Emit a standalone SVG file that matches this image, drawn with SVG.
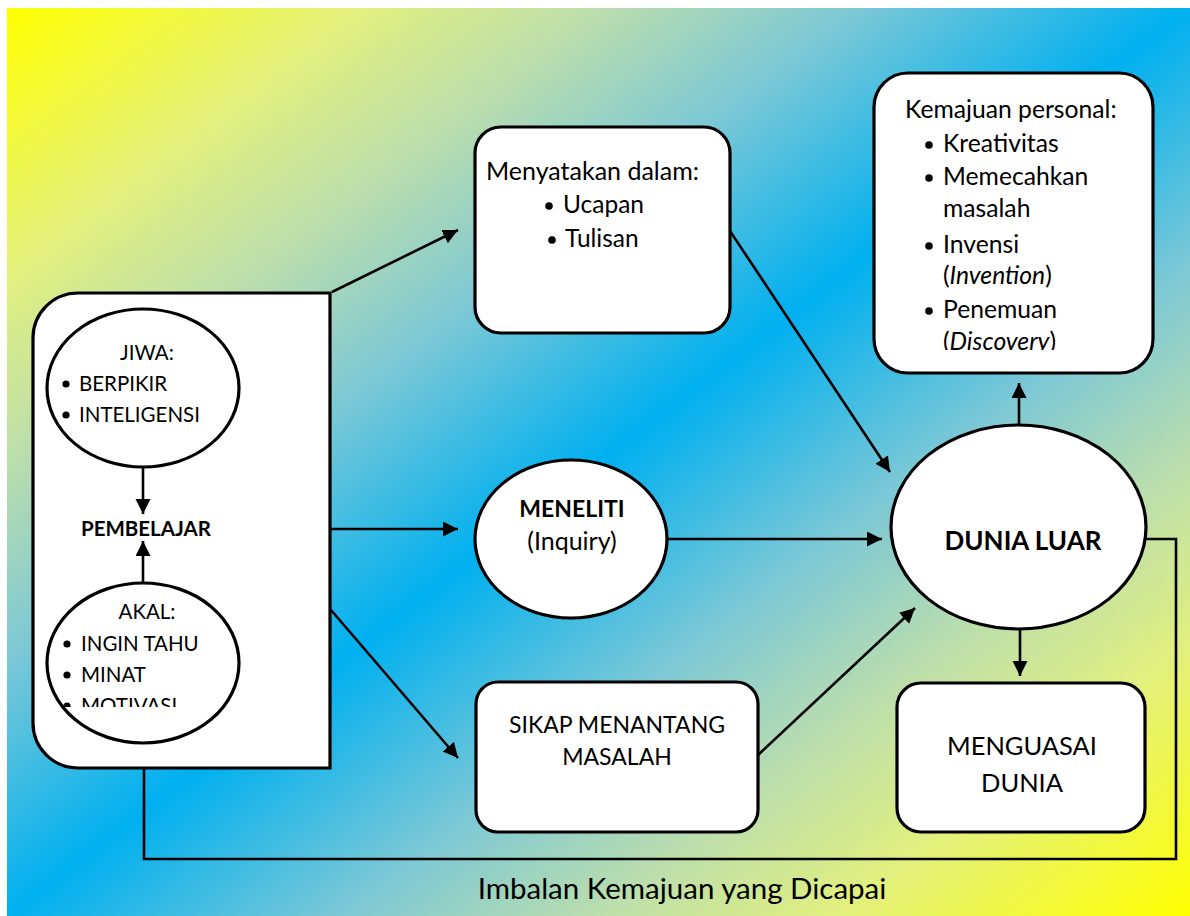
<svg xmlns="http://www.w3.org/2000/svg" width="1190" height="916" viewBox="0 0 1190 916">
<defs>
<linearGradient id="bg" x1="0" y1="0" x2="1" y2="1">
<stop offset="0" stop-color="#FFFF00"/>
<stop offset="0.15" stop-color="#E2F07E"/>
<stop offset="0.25" stop-color="#BCDEAC"/>
<stop offset="0.36" stop-color="#7CC8D6"/>
<stop offset="0.5" stop-color="#00B0F0"/>
<stop offset="0.64" stop-color="#7CC8D6"/>
<stop offset="0.75" stop-color="#BCDEAC"/>
<stop offset="0.85" stop-color="#E2F07E"/>
<stop offset="1" stop-color="#FFFF00"/>
</linearGradient>
<marker id="ah" markerUnits="userSpaceOnUse" markerWidth="16" markerHeight="16" refX="15" refY="7.5" orient="auto">
<path d="M0,0 L15,7.5 L0,15 Z" fill="#000"/>
</marker>
<clipPath id="clipAkal"><rect x="40" y="580" width="210" height="127"/></clipPath>
<clipPath id="clipKem"><rect x="880" y="80" width="270" height="270"/></clipPath>
</defs>
<style>
.box{fill:#fff;stroke:#000;stroke-width:3.2}
.t{font-family:Lato,"Open Sans","Liberation Sans",sans-serif;fill:#000}
.b{font-weight:bold}
.c{stroke:#000;stroke-width:2.6;fill:none}
.a{marker-end:url(#ah)}
</style>
<rect x="7" y="8" width="1183" height="908" fill="url(#bg)"/>

<g id="connectors">
<line class="c a" x1="332" y1="292" x2="458" y2="230"/>
<line class="c a" x1="330" y1="529" x2="458" y2="529"/>
<line class="c a" x1="331" y1="610" x2="458" y2="758"/>
<line class="c a" x1="730" y1="231" x2="890" y2="472"/>
<line class="c a" x1="667" y1="539" x2="882" y2="539"/>
<line class="c a" x1="758" y1="755" x2="915" y2="608"/>
<line class="c a" x1="1019" y1="425" x2="1019" y2="383"/>
<line class="c a" x1="1020" y1="629" x2="1020" y2="676"/>
<polyline class="c" points="1146,539 1176,539 1176,859 144,859 144,768"/>
</g>

<g id="pembelajar-box">
<path class="box" d="M78,293 H330 V768 H78 A45,45 0 0 1 33,723 V338 A45,45 0 0 1 78,293 Z"/>
<text class="t b" x="146" y="536" font-size="20.5" text-anchor="middle">PEMBELAJAR</text>
<line class="c a" x1="143" y1="467" x2="143" y2="514"/>
<line class="c a" x1="143" y1="583" x2="143" y2="541"/>
</g>

<g id="jiwa">
<ellipse class="box" cx="143" cy="388" rx="96" ry="79"/>
<text class="t" x="147" y="360" font-size="20.5" text-anchor="middle">JIWA:</text>
<circle cx="66" cy="384" r="3.6"/>
<text class="t" x="79" y="391" font-size="20.5">BERPIKIR</text>
<circle cx="66" cy="415" r="3.6"/>
<text class="t" x="79" y="422" font-size="20.5">INTELIGENSI</text>
</g>

<g id="akal">
<ellipse class="box" cx="143" cy="663" rx="96" ry="80"/>
<text class="t" x="147" y="619" font-size="20.5" text-anchor="middle">AKAL:</text>
<circle cx="67" cy="644" r="3.6"/>
<text class="t" x="81" y="651" font-size="20.5">INGIN TAHU</text>
<circle cx="67" cy="675" r="3.6"/>
<text class="t" x="81" y="682" font-size="20.5">MINAT</text>
<g clip-path="url(#clipAkal)">
<circle cx="67" cy="706" r="3.6"/>
<text class="t" x="81" y="713" font-size="20.5">MOTIVASI</text>
</g>
</g>

<g id="menyatakan">
<rect class="box" x="475" y="127" width="255" height="206" rx="26"/>
<text class="t" x="486" y="180" font-size="25">Menyatakan dalam:</text>
<circle cx="549" cy="206" r="3.8"/>
<text class="t" x="563" y="213" font-size="24.5">Ucapan</text>
<circle cx="552" cy="240" r="3.8"/>
<text class="t" x="565" y="247" font-size="24.5">Tulisan</text>
</g>

<g id="meneliti">
<ellipse class="box" cx="571" cy="539" rx="96" ry="79"/>
<text class="t b" x="572" y="517" font-size="23" text-anchor="middle">MENELITI</text>
<text class="t" x="572" y="550" font-size="25" text-anchor="middle">(Inquiry)</text>
</g>

<g id="sikap">
<rect class="box" x="476" y="682" width="282" height="150" rx="22"/>
<text class="t" x="617" y="733" font-size="23" text-anchor="middle">SIKAP MENANTANG</text>
<text class="t" x="617" y="765" font-size="23" text-anchor="middle">MASALAH</text>
</g>

<g id="kemajuan">
<rect class="box" x="874" y="73" width="279" height="300" rx="34"/>
<text class="t" x="905" y="118" font-size="24.7">Kemajuan personal:</text>
<g clip-path="url(#clipKem)">
<circle cx="929" cy="145" r="3.8"/>
<text class="t" x="943" y="152" font-size="24.7">Kreativitas</text>
<circle cx="929" cy="178" r="3.8"/>
<text class="t" x="943" y="185" font-size="24.7">Memecahkan</text>
<text class="t" x="943" y="217" font-size="24.7">masalah</text>
<circle cx="929" cy="246" r="3.8"/>
<text class="t" x="943" y="253" font-size="24.7">Invensi</text>
<text class="t" x="943" y="284" font-size="24.7">(<tspan font-style="italic">Invention</tspan>)</text>
<circle cx="929" cy="311" r="3.8"/>
<text class="t" x="943" y="318" font-size="24.7">Penemuan</text>
<text class="t" x="943" y="350" font-size="24.7">(<tspan font-style="italic">Discovery</tspan>)</text>
</g>
</g>

<g id="dunia-luar">
<ellipse class="box" cx="1018.5" cy="527" rx="127.5" ry="102"/>
<text class="t b" x="1023" y="550" font-size="26" text-anchor="middle">DUNIA LUAR</text>
</g>

<g id="menguasai">
<rect class="box" x="897" y="683" width="248" height="149" rx="24"/>
<text class="t" x="1022" y="755" font-size="25.5" text-anchor="middle">MENGUASAI</text>
<text class="t" x="1022" y="792" font-size="25.5" text-anchor="middle">DUNIA</text>
</g>

<text class="t" x="682" y="899" font-size="29.5" text-anchor="middle">Imbalan Kemajuan yang Dicapai</text>
</svg>
